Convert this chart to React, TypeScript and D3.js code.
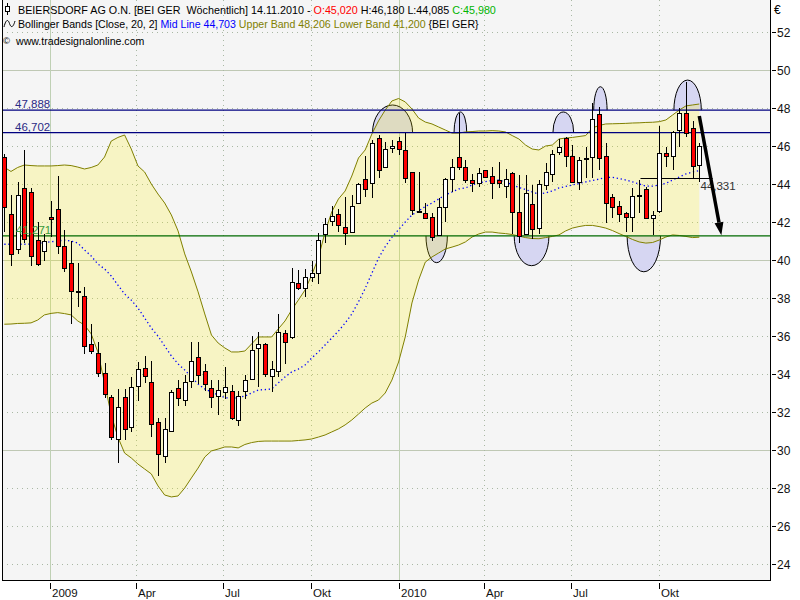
import React from "react";
import * as d3 from "d3";

// ---- data (weekly candles, first week ending Fri 14 Nov 2008) ----
const firstWeek = new Date(2008, 10, 14);

const opens = [45.4,42.4,40.6,43.8,43.6,41.05,40.5,42.28,42.7,40.74, 39.83,38.35,38.1,35.6,35.09,34.03,32.77,30.56,32.77,31.23, 33.37,34.3,33.56,31.46,29.68,31.0,33.25,32.63,33.63,34.91, 34.16,33.25,32.86,33.04,33.12,31.58,33.12,33.72,35.35,35.56, 33.9,34.17,36.14,35.93,38.77,38.51,39.12,39.3,41.35,42.05, 42.41,41.72,41.46,42.98,44.25,44.04,46.4,44.91,45.88,46.26, 45.79,44.62,42.6,42.46,42.25,41.32,42.81,44.26,45.4,44.88, 44.21,44.04,44.74,44.44,44.21,43.91,44.56,42.51,41.37,42.93, 41.67,43.95,44.53,45.7,46.4,45.47,44.12,45.3,45.4,47.68, 45.47,43.3,42.84,42.46,42.28,43.35,43.72,42.19,42.6,45.65, 45.47,46.84,47.72,46.93,45.02];
const highs = [45.6,43.4,44.1,45.8,43.8,42.0,41.35,43.1,44.4,41.6, 41.0,39.83,38.6,36.63,35.67,34.56,32.9,33.19,33.19,33.83, 34.65,34.95,34.68,31.7,31.67,33.16,33.68,33.95,35.67,35.67, 34.53,33.68,33.68,34.35,33.4,33.1,33.95,36.0,36.19,35.65, 34.68,37.16,36.32,39.56,39.47,39.51,39.95,41.4,42.2,42.84, 42.67,43.3,43.4,44.07,45.47,46.32,46.58,46.19,46.32,46.49, 46.67,44.65,44.65,42.98,42.46,43.25,44.3,45.3,47.75,45.26, 44.53,44.82,44.76,44.88,45.17,44.77,44.65,44.47,44.47,43.95, 44.2,45.09,45.79,46.35,46.49,46.05,45.44,45.96,48.28,48.07, 46.14,43.47,43.12,42.54,43.77,44.21,43.86,42.6,47.05,45.96, 46.81,47.98,49.38,47.33,46.18];
const lows = [41.5,39.7,40.3,40.9,39.7,39.7,39.95,41.2,40.3,39.38, 36.62,37.54,35.04,35.05,33.83,32.72,30.53,29.33,30.53,30.96, 32.6,33.5,30.7,28.65,29.33,30.96,32.32,32.3,33.25,33.46, 33.12,32.19,31.84,32.67,31.58,31.28,32.67,33.7,33.33,33.86, 33.07,33.86,34.51,35.83,38.4,38.07,38.86,38.72,40.91,41.8, 41.46,40.79,41.4,42.95,43.3,43.25,44.3,44.9,45.65,45.53, 44.04,42.37,42.5,42.15,41.02,41.3,42.02,43.6,44.74,44.04, 43.6,43.86,44.3,43.19,43.77,43.25,41.37,40.88,41.3,41.09, 41.37,43.68,44.12,45.53,44.88,44.1,43.68,44.3,44.3,44.74, 41.96,42.19,42.02,41.49,41.5,42.49,42.2,41.32,42.46,44.91, 44.74,45.96,46.46,44.25,44.085];
const closes = [42.8,40.3,43.4,41.1,40.2,39.8,41.0,42.17,40.75,39.6, 38.38,38.3,35.5,35.2,34.03,32.93,30.67,32.25,31.09,33.33, 34.25,33.9,31.35,29.77,31.09,33.04,32.72,33.56,34.68,33.95, 33.46,32.8,33.16,33.3,31.67,32.86,33.68,35.26,35.56,33.98, 34.25,36.19,35.7,38.83,38.51,39.12,39.3,41.05,41.89,42.32, 41.84,41.4,42.84,43.98,43.72,46.14,44.74,45.83,46.0,45.83, 44.3,42.63,42.55,42.19,41.23,42.77,44.26,44.91,44.91,44.21, 44.04,44.6,44.35,44.04,44.04,44.26,42.51,41.26,43.51,41.61, 43.98,44.65,45.58,45.96,45.47,44.12,45.26,45.37,47.42,45.35, 43.02,42.77,42.42,42.25,43.37,43.42,42.23,42.37,45.61,45.47, 46.72,47.72,46.7,44.95,45.98];

const upperBand = [44.88,44.66,44.87,45.0,44.97,44.95,44.95,44.95,44.97,45.0, 44.97,44.89,44.79,44.87,45.0,45.42,46.26,46.45,46.58,45.84, 44.95,44.63,44.0,43.47,43.0,42.37,41.53,40.32,39.37,38.32, 37.16,36.05,35.63,35.37,35.16,35.16,35.21,35.58,35.95,35.95, 35.95,36.37,36.79,37.37,37.89,38.42,39.21,40.11,41.47,42.53, 43.21,43.63,44.42,45.37,45.79,46.63,47.32,47.89,48.37,48.5, 48.32,47.95,47.47,47.26,47.16,47.0,46.84,46.68,46.68,46.74, 46.76,46.79,46.79,46.81,46.79,46.74,46.55,46.37,46.05,45.84, 45.79,46.0,46.05,46.37,46.42,46.45,46.5,46.55,46.95,47.08, 47.16,47.17,47.18,47.19,47.21,47.22,47.24,47.25,47.28,47.37, 47.63,47.89,48.11,48.16,48.21];
const midBand = [40.83,40.83,40.83,40.83,40.84,40.87,40.92,40.96,41.0,41.05, 41.0,40.89,40.53,40.21,39.79,39.53,39.16,38.68,38.21,37.89, 37.47,36.95,36.42,36.0,35.47,34.95,34.53,34.21,33.84,33.47, 33.21,33.05,32.89,32.76,32.71,32.76,32.84,33.0,33.16,33.18, 33.21,33.53,33.84,34.11,34.26,34.47,34.84,35.16,35.53,35.89, 36.26,36.68,37.16,37.8,38.5,39.3,40.1,40.7,41.2,41.6, 42.0,42.37,42.58,42.82,43.0,43.21,43.42,43.58,43.74,43.79, 43.95,44.05,44.13,44.18,44.21,44.11,43.95,43.82,43.71,43.58, 43.47,43.53,43.63,43.79,43.87,43.95,44.03,44.11,44.18,44.26, 44.34,44.35,44.29,44.21,44.11,44.0,43.89,43.89,43.95,44.03, 44.21,44.37,44.53,44.63,44.7];
const lowerBand = [36.62,36.63,36.66,36.67,36.69,36.84,37.11,37.19,37.23,37.18, 37.11,36.79,36.58,36.11,35.16,33.53,31.84,30.68,29.84,29.58, 29.26,29.0,28.74,28.11,27.63,27.53,27.58,28.0,28.53,29.05, 29.63,29.95,30.05,30.16,30.16,30.11,30.29,30.39,30.45,30.47, 30.47,30.47,30.47,30.47,30.5,30.53,30.58,30.68,30.79,30.95, 31.11,31.32,31.58,31.89,32.21,32.47,32.63,33.0,33.68,34.63, 35.95,37.74,38.95,39.89,40.16,40.37,40.58,40.68,40.79,40.95, 41.21,41.37,41.47,41.47,41.42,41.39,41.34,41.26,41.18,41.13, 41.12,41.18,41.24,41.32,41.53,41.68,41.76,41.82,41.82,41.76, 41.68,41.55,41.39,41.24,41.08,40.95,40.89,40.92,41.05,41.21, 41.32,41.29,41.24,41.18,41.2];

const yTicks = [52, 50, 48, 46, 44, 42, 40, 38, 36, 34, 32, 30, 28, 26, 24];
const ySolid = [50, 40, 30];
const xTickDates = [new Date(2009,0,1), new Date(2009,3,1), new Date(2009,6,1), new Date(2009,9,1), new Date(2010,0,1), new Date(2010,3,1), new Date(2010,6,1), new Date(2010,9,1)];
const xTickLabels = ["2009", "Apr", "Jul", "Okt", "2010", "Apr", "Jul", "Okt"];

// resistance / support levels
const resistValues = [47.888, 46.702];
const resistLabels = ["47,888", "46,702"];
const supportValue = 41.271;
const supportLabel = "41,271";
const pivotValue = 44.331;
const pivotLabel = "44,331";
const pivotSpan = [95.2, 106];

// marker half-ellipses: [startIdx, endIdx, extremeValue, baseValue]
const topMarks = [[55.1, 61.1, 48.16, 46.702], [67.3, 69.2, 47.79, 46.702], [82.1, 85.2, 47.79, 46.702], [88.2, 90.2, 49.12, 47.888], [100.2, 104.3, 49.47, 47.888]];
const bottomMarks = [[63.1, 66.3, 39.86, 41.271], [76.3, 81.5, 39.7, 41.271], [93.2, 98.2, 39.38, 41.271]];
const arrowFrom = [104, 47.58];
const arrowTo = [107.3, 41.3];

const weeks = opens.map((_, i) => d3.timeWeek.offset(firstWeek, i));

const FONT = "'Liberation Sans', Arial, sans-serif";

export default function App() {
  const n = weeks.length;
  const x = d3.scaleTime().domain([weeks[0], weeks[n - 1]]).range([4.3, 699.3]);
  const xi = d3.scaleLinear().domain([0, n - 1]).range([4.3, 699.3]);
  const y = d3.scaleLinear().domain([24, 52]).range([564, 32]);

  const plotL = 2, plotR = 770, plotT = 0, plotB = 580;

  const bandArea = d3.area<number>()
    .x((_, i) => x(weeks[i]))
    .y0((_, i) => y(lowerBand[i]))
    .y1((_, i) => y(upperBand[i]));
  const lineOf = (arr: number[]) => d3.line<number>().x((_, i) => x(weeks[i])).y((d) => y(d))(arr) || "";

  const halfEllipse = (m: number[], top: boolean) => {
    const x0 = xi(m[0]), x1 = xi(m[1]);
    const rx = (x1 - x0) / 2;
    const base = y(m[3]);
    const ry = Math.abs(y(m[2]) - base);
    return `M${x0},${base} A${rx},${ry} 0 0 ${top ? 1 : 0} ${x1},${base}`;
  };

  // arrow geometry
  const ax0 = xi(arrowFrom[0]), ay0 = y(arrowFrom[1]);
  const ax1 = xi(arrowTo[0]), ay1 = y(arrowTo[1]);
  const len = Math.hypot(ax1 - ax0, ay1 - ay0);
  const ux = (ax1 - ax0) / len, uy = (ay1 - ay0) / len;
  const hb = [ax1 - ux * 13, ay1 - uy * 13];
  const head = `M${ax1},${ay1} L${hb[0] - uy * 4.5},${hb[1] + ux * 4.5} L${hb[0] + uy * 4.5},${hb[1] - ux * 4.5} Z`;

  return (
    <svg width={800} height={600} style={{ position: "absolute", left: 0, top: 0, display: "block", background: "#fff" }} fontFamily={FONT}>
      <defs>
        <clipPath id="plot">
          <rect x={plotL} y={plotT} width={plotR - plotL} height={plotB - plotT} />
        </clipPath>
      </defs>
      <rect x={0} y={0} width={800} height={600} fill="#fff" />
      <rect x={plotL} y={plotT} width={plotR - plotL} height={plotB - plotT} fill="#f5f5f5" />

      <g clipPath="url(#plot)">
        {/* horizontal grid */}
        {yTicks.map((v) => (
          <line key={"hg" + v} x1={plotL} x2={plotR} y1={Math.round(y(v)) + 0.5} y2={Math.round(y(v)) + 0.5}
            stroke={ySolid.includes(v) ? "#bfc8b4" : "#a9b8a4"} strokeDasharray={ySolid.includes(v) ? undefined : "1,4"} />
        ))}
        {/* vertical grid */}
        {xTickDates.map((d, i) => (
          <line key={"vg" + i} x1={Math.round(x(d)) + 0.5} x2={Math.round(x(d)) + 0.5} y1={plotT} y2={plotB}
            stroke={d.getMonth() === 0 ? "#bfd0b4" : "#a9b8a4"} strokeDasharray={d.getMonth() === 0 ? undefined : "1,4"} />
        ))}

        {/* marker ellipses (beneath band fill) */}
        {topMarks.map((m, i) => (
          <path key={"tm" + i} d={halfEllipse(m, true)} fill="#d6d6f2" stroke="#000" strokeWidth={1} />
        ))}
        {bottomMarks.map((m, i) => (
          <path key={"bm" + i} d={halfEllipse(m, false)} fill="#d6d6f2" stroke="#000" strokeWidth={1} />
        ))}

        {/* Bollinger band */}
        <path d={bandArea(upperBand) || ""} fill="rgb(255,240,0)" fillOpacity={0.2} />
        <path d={lineOf(upperBand)} fill="none" stroke="#808000" strokeWidth={1} />
        <path d={lineOf(lowerBand)} fill="none" stroke="#808000" strokeWidth={1} />
        <path d={lineOf(midBand)} fill="none" stroke="#0000ff" strokeWidth={1.3} strokeDasharray="1.3,2.7" />

        {/* level lines */}
        {resistValues.map((v, i) => (
          <line key={"rl" + i} x1={plotL} x2={plotR} y1={y(v)} y2={y(v)} stroke="#000080" strokeWidth={1.4} />
        ))}
        <line x1={plotL} x2={plotR} y1={y(supportValue)} y2={y(supportValue)} stroke="#006a00" strokeWidth={1.4} />
        <line x1={xi(pivotSpan[0])} x2={xi(pivotSpan[1])} y1={Math.round(y(pivotValue)) + 0.5} y2={Math.round(y(pivotValue)) + 0.5} stroke="#000" strokeWidth={1} />

        {/* candles */}
        {opens.map((o, i) => {
          const c = closes[i];
          const cx = Math.round(x(weeks[i]));
          const top = Math.round(y(Math.max(o, c)));
          const bot = Math.round(y(Math.min(o, c)));
          const h = Math.max(1, bot - top);
          return (
            <g key={"c" + i}>
              <line x1={cx + 0.5} x2={cx + 0.5} y1={Math.round(y(highs[i]))} y2={Math.round(y(lows[i]))} stroke="#000" strokeWidth={1} />
              <rect x={cx - 2 + 0.5} y={top + 0.5} width={4} height={h} fill={c < o ? "#ff0000" : "#ffffff"} stroke="#000" strokeWidth={1} />
            </g>
          );
        })}

        {/* level labels */}
        {resistValues.map((v, i) => (
          <text key={"rt" + i} x={15} y={y(v) - 2} fontSize={11.5} fill="#2b2b85">{resistLabels[i]}</text>
        ))}
        <text x={16} y={y(supportValue) - 2} fontSize={11.5} fill="#3a9a3a">{supportLabel}</text>
        <text x={xi(pivotSpan[0]) + 60} y={y(pivotValue) + 12} fontSize={11.5} fill="#333">{pivotLabel}</text>

        {/* arrow */}
        <line x1={ax0} y1={ay0} x2={hb[0]} y2={hb[1]} stroke="#000" strokeWidth={3.5} />
        <path d={head} fill="#000" />

        {/* header */}
        <g>
          <line x1={7.5} x2={7.5} y1={3} y2={15} stroke="#000" />
          <rect x={5.5} y={6.5} width={4} height={5} fill="#fff" stroke="#000" />
          <text x={18} y={13.5} fontSize={10.75} xmlSpace="preserve" style={{ whiteSpace: "pre" }}>
            <tspan fill="#000">{"BEIERSDORF AG O.N. [BEI GER  Wöchentlich] 14.11.2010 - "}</tspan>
            <tspan fill="#ff0000">{"O:45,020"}</tspan>
            <tspan fill="#000">{" H:46,180 L:44,085 "}</tspan>
            <tspan fill="#00b400">{"C:45,980"}</tspan>
          </text>
          <path d="M4,27 C6,19 8,19 9.5,23.5 C11,28 13,28 15,21" fill="none" stroke="#000" strokeWidth={1} />
          <text x={18} y={28} fontSize={10.6} xmlSpace="preserve" style={{ whiteSpace: "pre" }}>
            <tspan fill="#000">{"Bollinger Bands [Close, 20, 2] "}</tspan>
            <tspan fill="#0000ff">{"Mid Line 44,703 "}</tspan>
            <tspan fill="#808000">{"Upper Band 48,206 Lower Band 41,200 "}</tspan>
            <tspan fill="#000">{"{BEI GER}"}</tspan>
          </text>
          <text x={3} y={44} fontSize={9.5}>©</text>
          <text x={16} y={45} fontSize={10.6}>www.tradesignalonline.com</text>
        </g>
      </g>

      {/* frame */}
      <line x1={plotL + 0.5} x2={plotL + 0.5} y1={plotT} y2={plotB} stroke="#000" />
      <line x1={plotR + 0.5} x2={plotR + 0.5} y1={plotT} y2={plotB + 1} stroke="#000" />
      <line x1={plotL} x2={plotR + 1} y1={plotB + 0.5} y2={plotB + 0.5} stroke="#000" />

      {/* right axis */}
      <text x={774} y={14} fontSize={12} fill="#000">€</text>
      {yTicks.map((v) => (
        <g key={"yt" + v}>
          <line x1={772} x2={776} y1={Math.round(y(v)) + 0.5} y2={Math.round(y(v)) + 0.5} stroke="#000" />
          <text x={777} y={y(v) + 4.5} fontSize={12} fill="#111">{v}</text>
        </g>
      ))}

      {/* bottom axis */}
      {xTickDates.map((d, i) => (
        <g key={"xt" + i}>
          <line x1={Math.round(x(d)) + 0.5} x2={Math.round(x(d)) + 0.5} y1={583} y2={589} stroke="#000" />
          <text x={Math.round(x(d)) + 2} y={597} fontSize={11.5} fill="#111">{xTickLabels[i]}</text>
        </g>
      ))}
    </svg>
  );
}
